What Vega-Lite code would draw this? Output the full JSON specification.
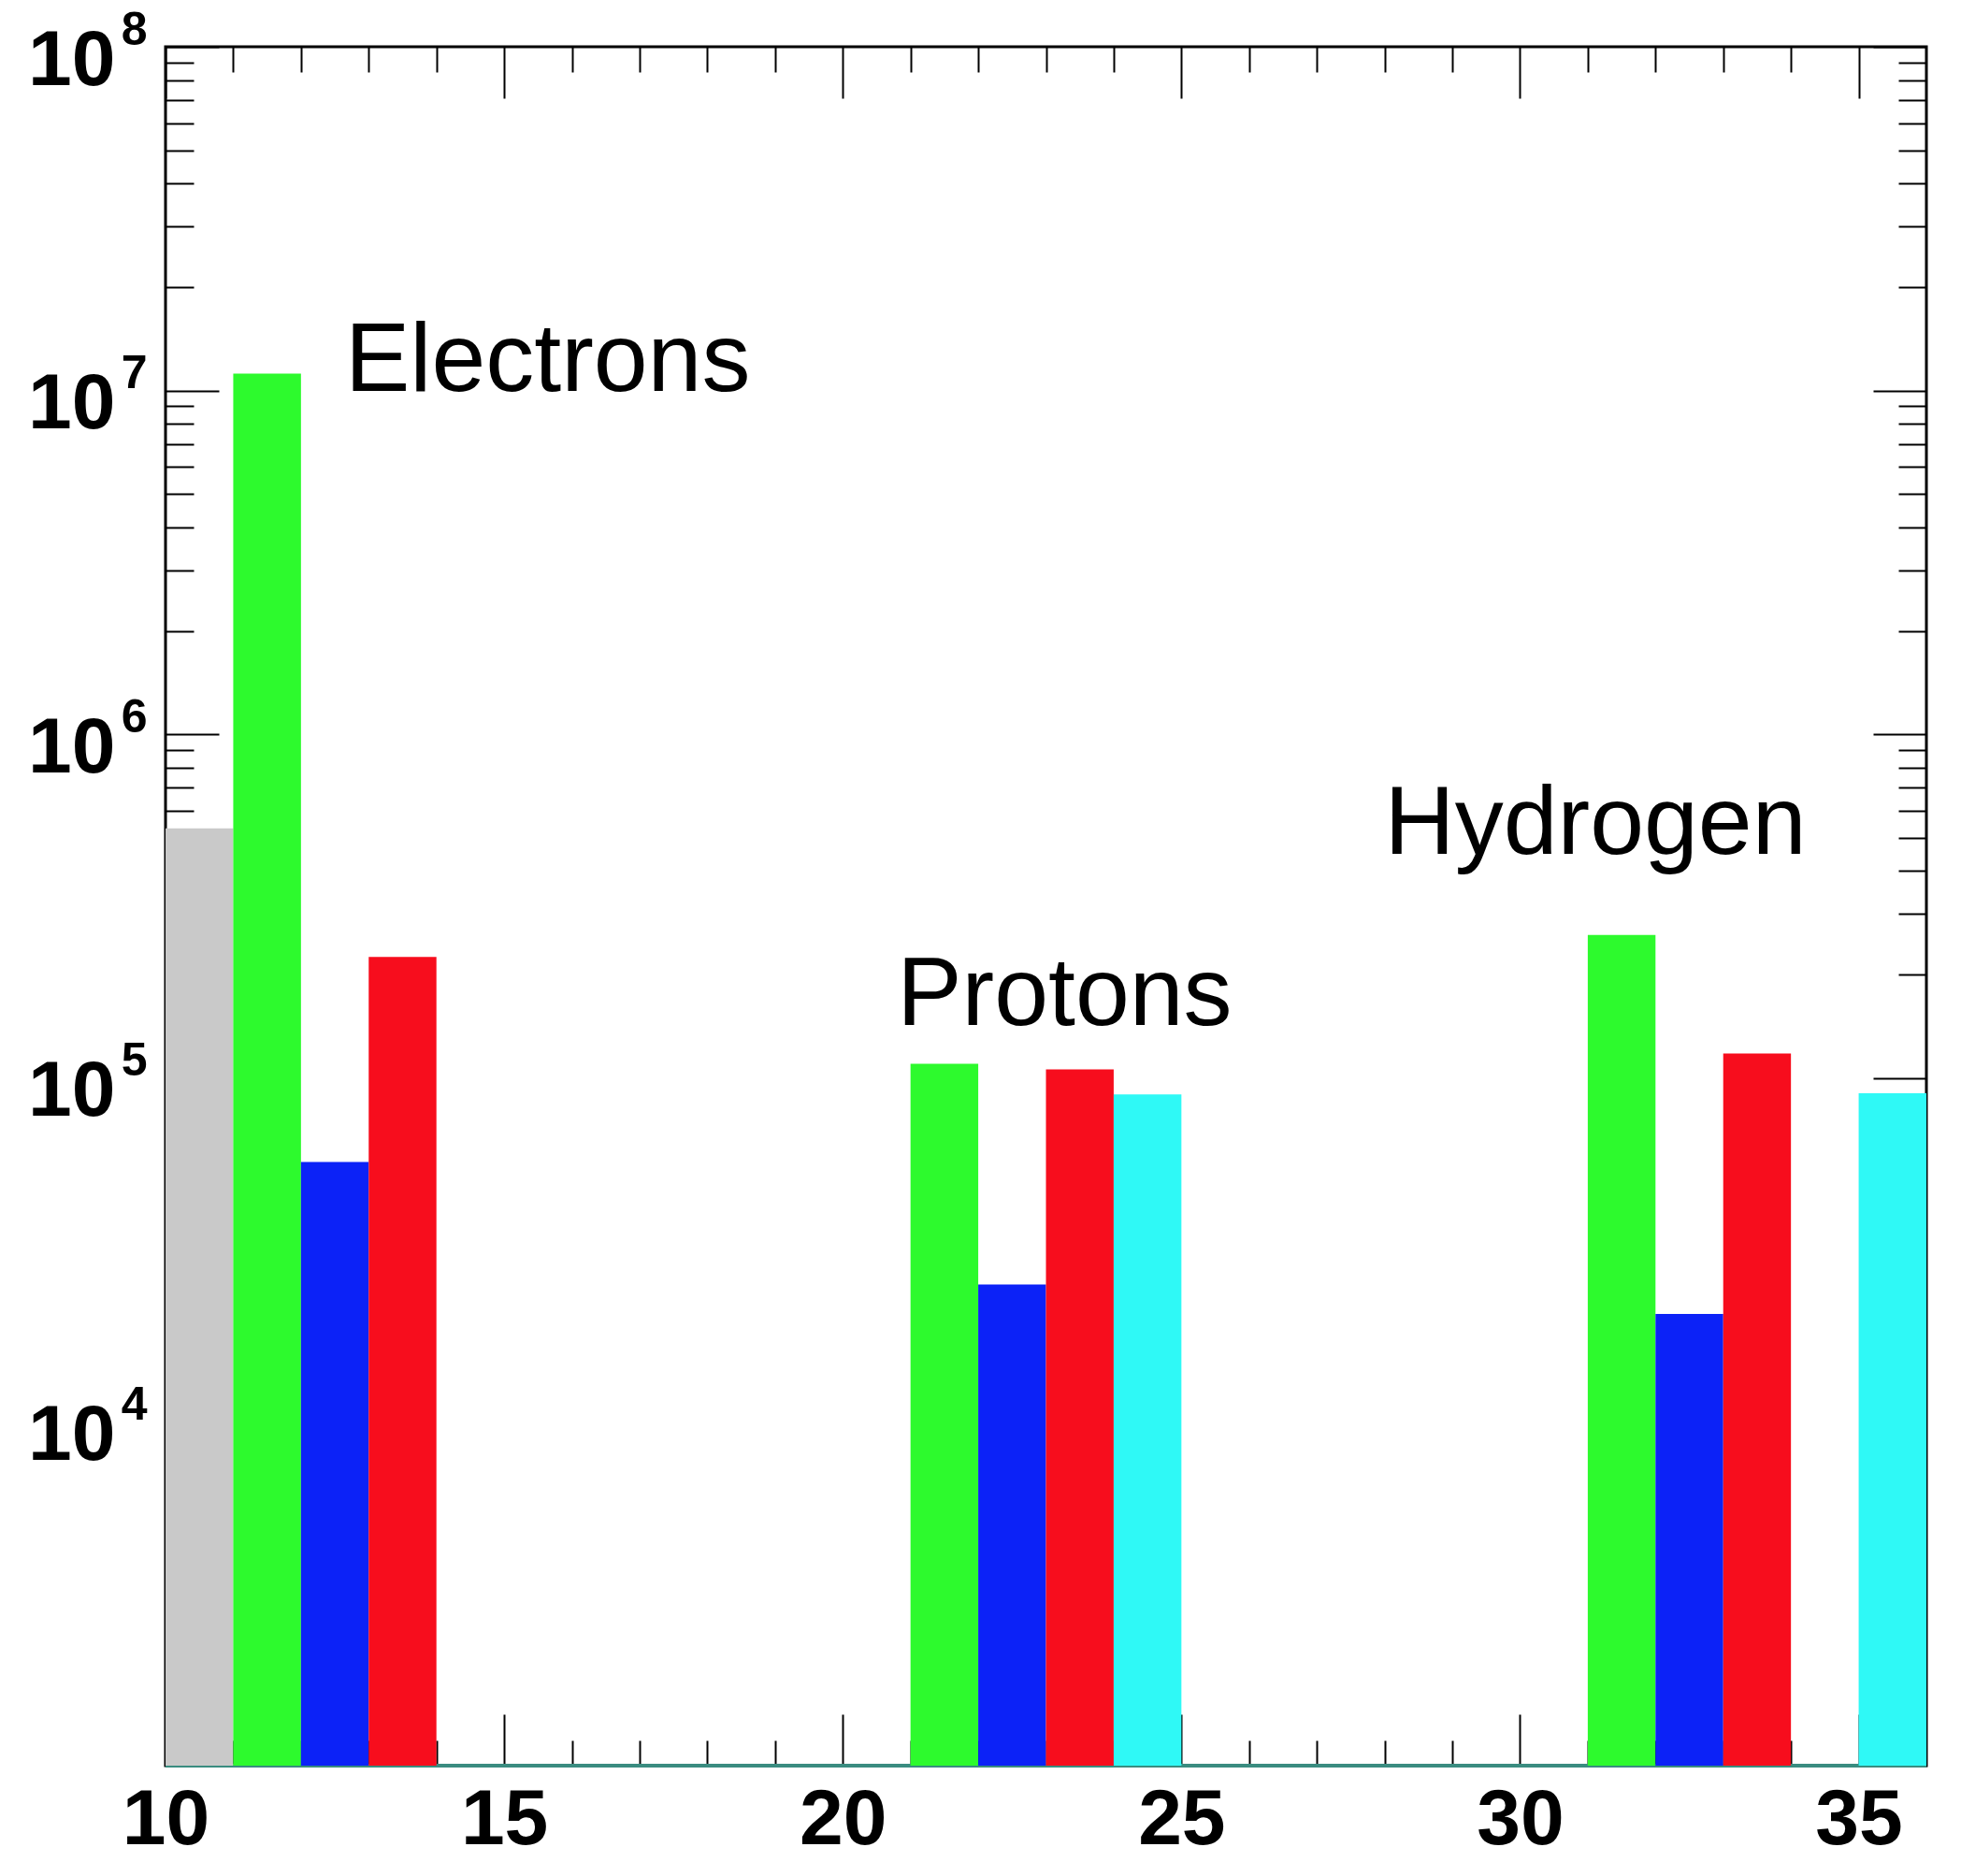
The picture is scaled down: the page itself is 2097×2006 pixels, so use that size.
{
  "$schema": "https://vega.github.io/schema/vega-lite/v6.json",
  "autosize": "none",
  "width": 1883,
  "height": 1838,
  "padding": {"left": 177, "top": 50, "right": 37, "bottom": 118},
  "background": "white",
  "config": {
    "view": {"stroke": "black", "strokeWidth": 3},
    "axis": {"grid": false, "domain": false, "tickColor": "black", "tickWidth": 2, "labelColor": "black", "labelFont": "Liberation Sans", "labelFontWeight": "bold", "labelFontSize": 84, "labelFlush": false, "labelOverlap": false, "title": null}
  },
  "datasets": {
    "bars": [
      {"start": 10, "end": 11, "value": 533000, "type": "gray"},
      {"start": 11, "end": 12, "value": 11200000, "type": "green"},
      {"start": 12, "end": 13, "value": 57000, "type": "blue"},
      {"start": 13, "end": 14, "value": 225000, "type": "red"},
      {"start": 21, "end": 22, "value": 110000, "type": "green"},
      {"start": 22, "end": 23, "value": 25100, "type": "blue"},
      {"start": 23, "end": 24, "value": 106000, "type": "red"},
      {"start": 24, "end": 25, "value": 89600, "type": "cyan"},
      {"start": 31, "end": 32, "value": 261000, "type": "green"},
      {"start": 32, "end": 33, "value": 20600, "type": "blue"},
      {"start": 33, "end": 34, "value": 118000, "type": "red"},
      {"start": 35, "end": 36, "value": 90400, "type": "cyan"}
    ],
    "labels": [
      {"label": "Electrons", "x": 12.65, "y": 10000000},
      {"label": "Protons", "x": 20.8, "y": 143000},
      {"label": "Hydrogen", "x": 28.0, "y": 450000}
    ]
  },
  "resolve": {"axis": {"x": "independent", "y": "independent"}},
  "layer": [
    {
      "data": {"name": "bars"},
      "mark": {"type": "rule", "color": "#3a8c80", "strokeWidth": 4},
      "encoding": {
        "y": {"datum": 1000, "type": "quantitative", "scale": {"type": "log", "domain": [1000, 100000000], "nice": false}, "axis": null}
      }
    },
    {
      "data": {"name": "bars"},
      "mark": {"type": "bar", "opacity": 0},
      "encoding": {
        "x": {"field": "start", "type": "quantitative", "scale": {"domain": [10, 36], "nice": false, "zero": false},
              "axis": {"orient": "bottom", "values": [10, 15, 20, 25, 30, 35], "tickSize": -55, "labels": false}},
        "x2": {"field": "end"},
        "y": {"field": "value", "type": "quantitative", "scale": {"type": "log", "domain": [1000, 100000000], "nice": false},
              "axis": {"orient": "left", "values": [1000, 10000, 100000, 1000000, 10000000, 100000000], "tickSize": -57, "labels": false}},
        "y2": {"datum": 1000}
      }
    },
    {
      "data": {"name": "bars"},
      "mark": {"type": "bar", "opacity": 0},
      "encoding": {
        "x": {"field": "start", "type": "quantitative",
              "axis": {"orient": "bottom", "values": [11, 12, 13, 14, 16, 17, 18, 19, 21, 22, 23, 24, 26, 27, 28, 29, 31, 32, 33, 34], "tickSize": -27, "labels": false}},
        "x2": {"field": "end"},
        "y": {"field": "value", "type": "quantitative",
              "axis": {"orient": "left", "values": [2000, 3000, 4000, 5000, 6000, 7000, 8000, 9000, 20000, 30000, 40000, 50000, 60000, 70000, 80000, 90000, 200000, 300000, 400000, 500000, 600000, 700000, 800000, 900000, 2000000, 3000000, 4000000, 5000000, 6000000, 7000000, 8000000, 9000000, 20000000, 30000000, 40000000, 50000000, 60000000, 70000000, 80000000, 90000000], "tickSize": -30, "labels": false}},
        "y2": {"datum": 1000}
      }
    },
    {
      "data": {"name": "bars"},
      "mark": {"type": "bar", "opacity": 0},
      "encoding": {
        "x": {"field": "start", "type": "quantitative",
              "axis": {"orient": "top", "values": [10, 15, 20, 25, 30, 35], "tickSize": -55, "labels": false}},
        "x2": {"field": "end"},
        "y": {"field": "value", "type": "quantitative",
              "axis": {"orient": "right", "values": [1000, 10000, 100000, 1000000, 10000000, 100000000], "tickSize": -57, "labels": false}},
        "y2": {"datum": 1000}
      }
    },
    {
      "data": {"name": "bars"},
      "mark": {"type": "bar", "opacity": 0},
      "encoding": {
        "x": {"field": "start", "type": "quantitative",
              "axis": {"orient": "top", "values": [11, 12, 13, 14, 16, 17, 18, 19, 21, 22, 23, 24, 26, 27, 28, 29, 31, 32, 33, 34], "tickSize": -27, "labels": false}},
        "x2": {"field": "end"},
        "y": {"field": "value", "type": "quantitative",
              "axis": {"orient": "right", "values": [2000, 3000, 4000, 5000, 6000, 7000, 8000, 9000, 20000, 30000, 40000, 50000, 60000, 70000, 80000, 90000, 200000, 300000, 400000, 500000, 600000, 700000, 800000, 900000, 2000000, 3000000, 4000000, 5000000, 6000000, 7000000, 8000000, 9000000, 20000000, 30000000, 40000000, 50000000, 60000000, 70000000, 80000000, 90000000], "tickSize": -30, "labels": false}},
        "y2": {"datum": 1000}
      }
    },
    {
      "data": {"name": "bars"},
      "mark": {"type": "bar", "opacity": 0},
      "encoding": {
        "x": {"field": "start", "type": "quantitative", "axis": null},
        "x2": {"field": "end"},
        "y": {"field": "value", "type": "quantitative",
              "axis": {"orient": "left", "values": [10000, 100000, 1000000, 10000000, 100000000], "ticks": false, "labelExpr": "'' + round(log(datum.value) / LN10)", "labelFontSize": 50, "labelPadding": 20, "labelAlign": "right", "labelBaseline": "alphabetic", "labelOffset": -3}},
        "y2": {"datum": 1000}
      }
    },
    {
      "data": {"name": "bars"},
      "mark": {"type": "bar"},
      "encoding": {
        "x": {"field": "start", "type": "quantitative",
              "axis": {"orient": "bottom", "values": [10, 15, 20, 25, 30, 35], "ticks": false, "labelPadding": 17, "labelBaseline": "top"}},
        "x2": {"field": "end"},
        "y": {"field": "value", "type": "quantitative",
              "axis": {"orient": "left", "values": [10000, 100000, 1000000, 10000000, 100000000], "ticks": false, "labelExpr": "'10'", "labelPadding": 54, "labelAlign": "right", "labelBaseline": "alphabetic", "labelOffset": 40}},
        "y2": {"datum": 1000},
        "color": {"field": "type", "type": "nominal", "legend": null,
                  "scale": {"domain": ["gray", "green", "blue", "red", "cyan"], "range": ["#c9c9c9", "#2dfa2d", "#0c22f7", "#f70d1d", "#2ff9f6"]}}
      }
    },
    {
      "data": {"name": "labels"},
      "mark": {"type": "text", "font": "Liberation Sans", "fontSize": 104, "align": "left", "baseline": "alphabetic", "color": "black"},
      "encoding": {
        "x": {"field": "x", "type": "quantitative", "axis": null},
        "y": {"field": "y", "type": "quantitative", "axis": null},
        "text": {"field": "label"}
      }
    }
  ]
}
